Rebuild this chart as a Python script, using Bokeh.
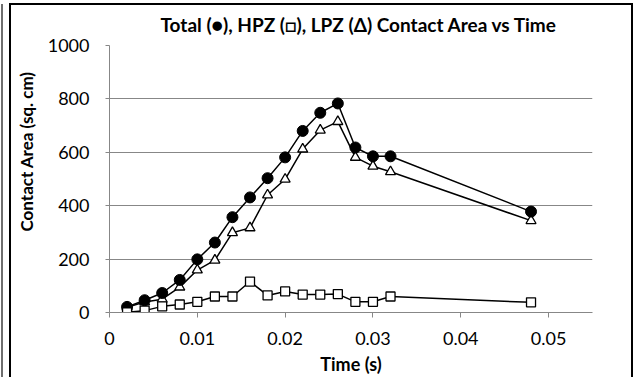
from bokeh.plotting import figure
from bokeh.models import Range1d, FixedTicker, Title
from bokeh.embed import file_html
from bokeh.resources import INLINE

# Sample times (s) and contact areas (sq. cm)
time_s = [0.002, 0.004, 0.006, 0.008, 0.010, 0.012, 0.014, 0.016, 0.018,
          0.020, 0.022, 0.024, 0.026, 0.028, 0.030, 0.032, 0.048]
total_area = [21, 46, 73, 122, 199, 262, 357, 431, 503, 581, 680, 748, 783,
              618, 585, 585, 378]
hpz_area = [1, 7, 23, 30, 40, 60, 60, 116, 64, 79, 67, 67, 69, 40, 40, 60, 38]
lpz_area = [20, 39, 50, 95, 159, 196, 299, 317, 440, 499, 612, 683, 715,
            581, 548, 527, 344]

x_ticks = [0, 0.01, 0.02, 0.03, 0.04, 0.05]
x_tick_labels = {0: "0", 0.01: "0.01", 0.02: "0.02", 0.03: "0.03",
                 0.04: "0.04", 0.05: "0.05"}
y_ticks = [0, 200, 400, 600, 800, 1000]

FONT = "Lato"
GRID = "#878787"

p = figure(width=634, height=377, output_backend="svg", toolbar_location=None,
           x_range=Range1d(0, 0.055), y_range=Range1d(0, 1000),
           min_border_left=109, min_border_right=42,
           min_border_top=43, min_border_bottom=64)
p.outline_line_color = None
p.background_fill_color = "white"
p.border_fill_color = "white"

# axes
p.xaxis.ticker = FixedTicker(ticks=x_ticks)
p.xaxis.major_label_overrides = x_tick_labels
p.yaxis.ticker = FixedTicker(ticks=y_ticks)
for ax in (p.xaxis, p.yaxis):
    ax.axis_line_color = GRID
    ax.axis_line_width = 1
    ax.major_tick_line_color = GRID
    ax.minor_tick_line_color = None
    ax.major_tick_in = 0
    ax.major_label_text_font = FONT
    ax.major_label_text_font_size = "18px"
    ax.major_label_text_color = "black"
p.xaxis.major_tick_out = 5
p.xaxis.major_label_standoff = 14
p.yaxis.major_tick_out = 4
p.yaxis.major_label_standoff = 16

p.xaxis.axis_label = "Time (s)"
p.xaxis.axis_label_text_font = FONT
p.xaxis.axis_label_text_font_style = "bold"
p.xaxis.axis_label_text_font_size = "18px"
p.xaxis.axis_label_text_color = "black"
p.xaxis.axis_label_standoff = 5

p.xgrid.grid_line_color = None
p.ygrid.grid_line_color = GRID
p.ygrid.grid_line_width = 1

# series: LPZ (triangles), Total (circles), HPZ (squares)
p.line(time_s, lpz_area, line_color="black", line_width=1.5)
p.scatter(time_s, lpz_area, marker="triangle", size=10, fill_color="white",
          line_color="black", line_width=1.3)
p.line(time_s, total_area, line_color="black", line_width=1.5)
p.scatter(time_s, total_area, marker="circle", size=11, fill_color="black",
          line_color="black")
p.line(time_s, hpz_area, line_color="black", line_width=1.5)
p.scatter(time_s, hpz_area, marker="square", size=9, fill_color="white",
          line_color="black", line_width=1.3)

# chart title and vertical axis title
p.add_layout(Title(text="Total (\u25cf), HPZ (\u25a1), LPZ (\u0394) Contact Area vs Time",
                   align="left", offset=51, standoff=20,
                   text_font=FONT, text_font_style="bold", text_font_size="19px",
                   text_color="black"), "above")
p.add_layout(Title(text="Contact Area (sq. cm)", align="left", offset=81,
                   standoff=16, text_font=FONT, text_font_style="bold",
                   text_font_size="17px", text_color="black"), "left")

# chart frame and outer rule drawn over the canvas
p.stylesheets = [
    ":host { position: relative; }"
    ":host::before { content: ''; position: absolute; left: 1px; top: 4px;"
    " width: 2px; height: 380px; background: #6e6e6e; z-index: 10; pointer-events: none; }"
    ":host::after { content: ''; position: absolute; left: 9px; top: 3px;"
    " width: 624px; height: 400px; border: 2px solid black; box-sizing: border-box;"
    " z-index: 10; pointer-events: none; }"
]

open("out.html", "w").write(file_html(p, INLINE))
